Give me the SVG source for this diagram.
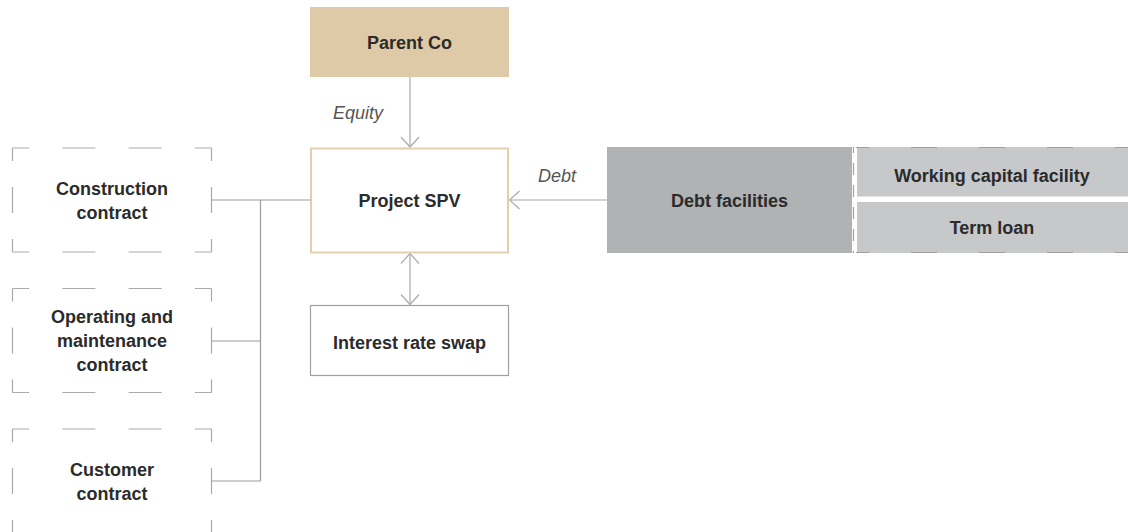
<svg xmlns="http://www.w3.org/2000/svg" width="1128" height="532" viewBox="0 0 1128 532">
  <style>
    .t { font-family: "Liberation Sans", Arial, sans-serif; font-size: 18px; font-weight: bold; fill: #2b2b2b; text-anchor: middle; }
    .lbl { font-family: "Liberation Sans", Arial, sans-serif; font-size: 18px; font-style: italic; fill: #555555; }
    .dh { stroke: #a9a9a9; stroke-width: 1.2; fill: none; stroke-dasharray: 33.17; stroke-dashoffset: 16.58; }
    .dv { stroke: #a9a9a9; stroke-width: 1.2; fill: none; stroke-dasharray: 26; stroke-dashoffset: 13; }
    .conn { stroke: #9c9c9c; stroke-width: 1.2; fill: none; }
    .arr { stroke: #aaaaaa; stroke-width: 1.2; fill: none; }
  </style>
  <defs>
    <marker id="chev" viewBox="-1 -10 12 20" refX="10" refY="0" markerWidth="12" markerHeight="20" markerUnits="userSpaceOnUse" orient="auto-start-reverse">
      <path d="M0,-9 L10,0 L0,9" fill="none" stroke="#aaaaaa" stroke-width="1.2"/>
    </marker>
  </defs>

  <g id="connectors">
    <line class="arr" x1="410" y1="77" x2="410" y2="147" marker-end="url(#chev)"/>
    <line class="arr" x1="607" y1="200" x2="509.5" y2="200" marker-end="url(#chev)"/>
    <line class="arr" x1="410" y1="253.5" x2="410" y2="304.5" marker-start="url(#chev)" marker-end="url(#chev)"/>
    <line class="conn" x1="211.5" y1="200" x2="310" y2="200"/>
    <line class="conn" x1="260.5" y1="200" x2="260.5" y2="481"/>
    <line class="conn" x1="211.5" y1="341" x2="260.5" y2="341"/>
    <line class="conn" x1="211.5" y1="481" x2="260.5" y2="481"/>
  </g>

  <g id="parent-co">
    <rect x="310" y="7" width="199" height="70" fill="#dfcaa7"/>
    <text class="t" x="409.5" y="49">Parent Co</text>
  </g>

  <text class="lbl" x="333" y="119">Equity</text>
  <text class="lbl" x="538" y="181.5">Debt</text>

  <g id="project-spv">
    <rect x="311" y="148.5" width="197" height="104" fill="#ffffff" stroke="#e2cfae" stroke-width="2"/>
    <text class="t" x="409.5" y="206.5">Project SPV</text>
  </g>

  <g id="interest-rate-swap">
    <rect x="310.5" y="305.5" width="198" height="70" fill="#ffffff" stroke="#a0a0a0" stroke-width="1.2"/>
    <text class="t" x="409.5" y="348.5">Interest rate swap</text>
  </g>

  <g id="construction-contract">
    <line class="dh" x1="12.5" y1="148" x2="211.5" y2="148"/>
    <line class="dh" x1="12.5" y1="252" x2="211.5" y2="252"/>
    <line class="dv" x1="12.5" y1="148" x2="12.5" y2="252"/>
    <line class="dv" x1="211.5" y1="148" x2="211.5" y2="252"/>
    <text class="t" x="112" y="194.5">Construction</text>
    <text class="t" x="112" y="218.5">contract</text>
  </g>

  <g id="om-contract">
    <line class="dh" x1="12.5" y1="288.5" x2="211.5" y2="288.5"/>
    <line class="dh" x1="12.5" y1="392.5" x2="211.5" y2="392.5"/>
    <line class="dv" x1="12.5" y1="288.5" x2="12.5" y2="392.5"/>
    <line class="dv" x1="211.5" y1="288.5" x2="211.5" y2="392.5"/>
    <text class="t" x="112" y="323">Operating and</text>
    <text class="t" x="112" y="347">maintenance</text>
    <text class="t" x="112" y="371">contract</text>
  </g>

  <g id="customer-contract">
    <line class="dh" x1="12.5" y1="429" x2="211.5" y2="429"/>
    <line class="dh" x1="12.5" y1="533" x2="211.5" y2="533"/>
    <line class="dv" x1="12.5" y1="429" x2="12.5" y2="533"/>
    <line class="dv" x1="211.5" y1="429" x2="211.5" y2="533"/>
    <text class="t" x="112" y="475.5">Customer</text>
    <text class="t" x="112" y="499.5">contract</text>
  </g>

  <g id="debt-facilities">
    <rect x="607" y="147" width="245" height="106" fill="#b1b2b4"/>
    <text class="t" x="729.5" y="207">Debt facilities</text>
  </g>

  <g id="working-capital-facility">
    <rect x="857" y="147" width="271" height="49.5" fill="#c7c8ca"/>
    <text class="t" x="992" y="181.5">Working capital facility</text>
  </g>

  <g id="term-loan">
    <rect x="857" y="202" width="271" height="51" fill="#c7c8ca"/>
    <text class="t" x="992" y="234">Term loan</text>
  </g>

  <g id="facility-outline">
    <line x1="856" y1="147.5" x2="1128" y2="147.5" stroke="#a0a0a0" stroke-width="1.2" stroke-dasharray="26 42" stroke-dashoffset="13"/>
    <line x1="856" y1="252.5" x2="1128" y2="252.5" stroke="#a0a0a0" stroke-width="1.2" stroke-dasharray="26 42" stroke-dashoffset="13"/>
    <line x1="853.5" y1="147" x2="853.5" y2="253" stroke="#a0a0a0" stroke-width="1.2" stroke-dasharray="12 10" stroke-dashoffset="6"/>
  </g>
</svg>
